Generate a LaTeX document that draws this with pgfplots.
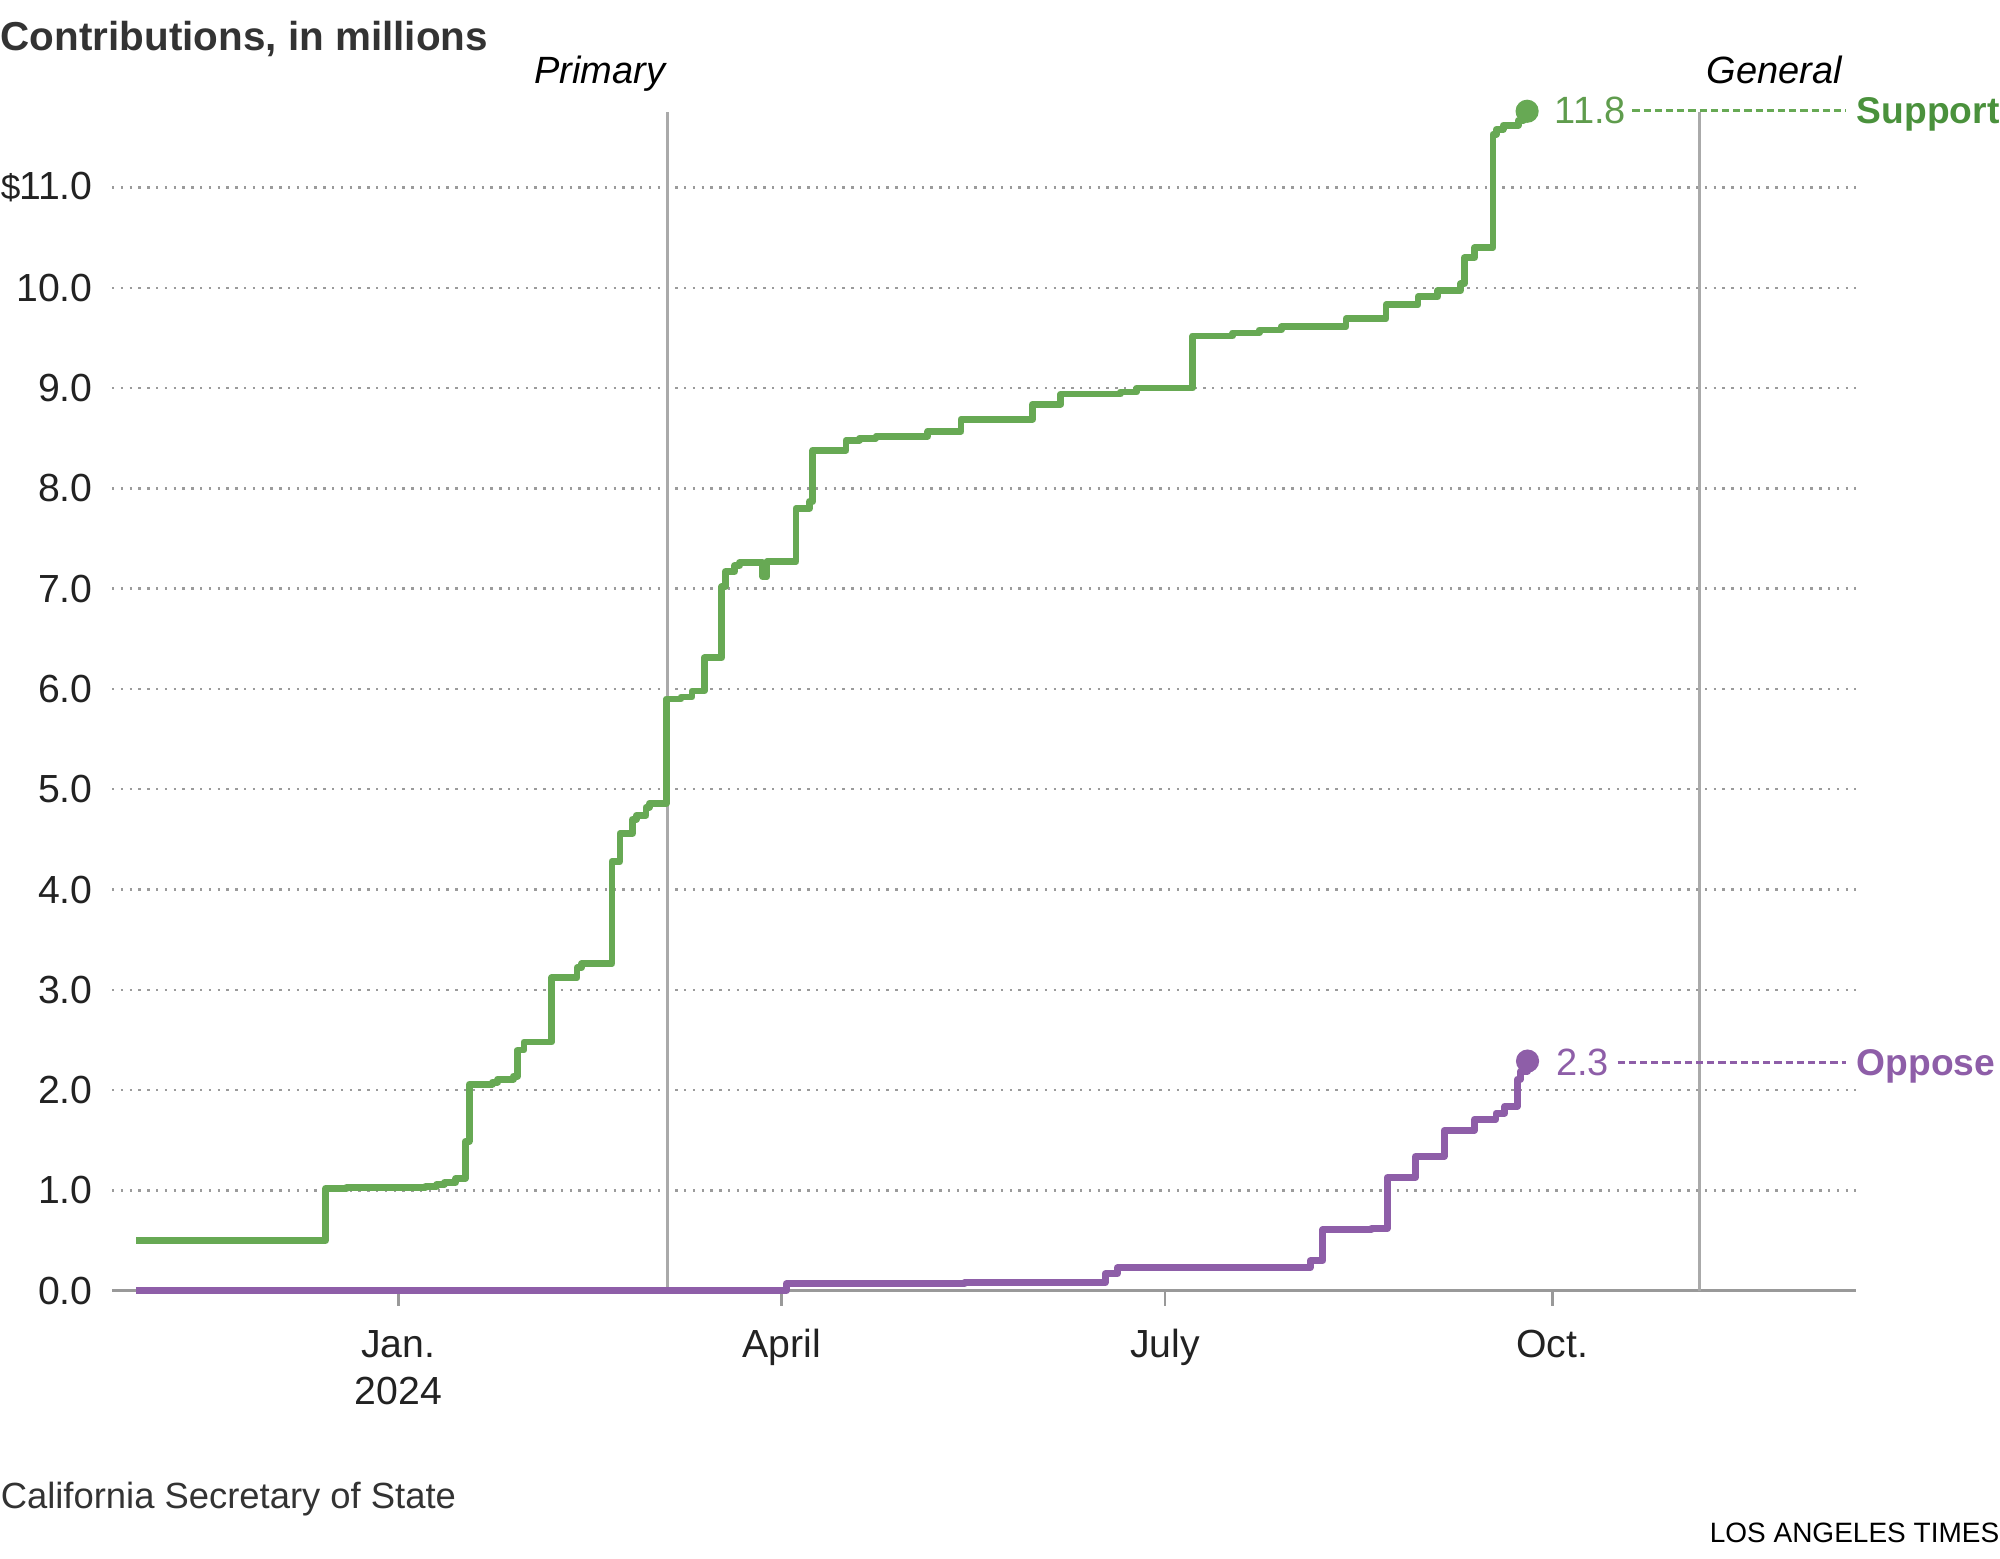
\documentclass[border=0pt]{standalone}
\usepackage{pgfplots}
\pgfplotsset{compat=1.18}
\usepackage{fontspec}
\setmainfont{Liberation Sans}
\newcommand\fs[1]{\fontsize{#1}{#1}\selectfont}
\definecolor{sup}{RGB}{103,169,84}
\definecolor{suptext}{RGB}{74,145,60}
\definecolor{opp}{RGB}{142,94,168}
\definecolor{axgray}{RGB}{153,153,153}
\definecolor{evgray}{RGB}{170,170,170}
\definecolor{griddot}{RGB}{155,155,155}
\definecolor{titlec}{RGB}{51,51,51}
\definecolor{tickc}{RGB}{34,34,34}
\begin{document}
\begin{tikzpicture}
\useasboundingbox (0,0) rectangle (500pt,389.75pt);
\begin{axis}[
  at={(28pt,67.05pt)}, anchor=south west,
  scale only axis, width=435.9pt, height=300.9pt,
  xmin=-68, xmax=346, ymin=0, ymax=12,
  clip=false,
  axis x line*=bottom, axis y line*=left,
  x axis line style={draw=axgray, line width=0.75pt, -},
  y axis line style={draw=none},
  xtick={0,91,182,274}, xticklabels={Jan.,April,July,Oct.},
  ytick={0,1,2,3,4,5,6,7,8,9,10,11},
  yticklabels={0.0,1.0,2.0,3.0,4.0,5.0,6.0,7.0,8.0,9.0,10.0,{{\fs{8.8}\$}\kern-0.3pt11.0}},
  tick align=outside,
  major tick length=3.8pt,
  xtick style={draw=axgray, line width=0.6pt},
  ytick style={draw=none},
  ymajorgrids,
  major grid style={draw=griddot, line width=0.6pt, dash pattern=on 0.6pt off 1.6pt},
  ticklabel style={font=\fs{9.8}, text=tickc},
  xticklabel style={anchor=base, yshift=-13.0pt},
  yticklabel style={anchor=east, xshift=2.5pt},
]
\draw[evgray, line width=0.75pt] (axis cs:64,0) -- (axis cs:64,11.75);
\draw[evgray, line width=0.75pt] (axis cs:309,0) -- (axis cs:309,11.75);

\addplot[const plot, opp, line width=1.7pt, line join=round] coordinates {
(-62.2,0.0) (92.1,0.07) (134.5,0.08) (167.8,0.17) (170.7,0.23) (216.5,0.30)
(219.5,0.61) (231.0,0.62) (234.8,1.13) (241.5,1.34) (248.3,1.60) (255.5,1.71)
(260.6,1.77) (262.7,1.84) (265.7,2.11) (266.4,2.19) (268.1,2.29)
};
\addplot[const plot, sup, line width=1.7pt, line join=round] coordinates {
(-62.2,0.50) (-17.3,1.02) (-12.3,1.03) (6.4,1.04) (9.1,1.06) (10.9,1.08)
(13.6,1.12) (15.9,1.49) (16.8,2.06) (22.3,2.08) (23.6,2.11) (27.3,2.14)
(28.3,2.40) (29.8,2.48) (36.4,3.12) (42.4,3.22) (43.5,3.26) (50.7,4.28)
(52.6,4.56) (55.6,4.70) (56.5,4.74) (58.8,4.82) (59.6,4.86) (63.6,5.90)
(67.1,5.92) (69.7,5.98) (72.6,6.31) (76.8,7.02) (77.6,7.17) (79.8,7.23)
(81.0,7.26) (86.5,7.12) (87.5,7.27) (94.4,7.80) (97.6,7.87) (98.4,8.38)
(106.3,8.48) (109.5,8.50) (113.4,8.52) (125.7,8.57) (133.6,8.69) (150.6,8.84)
(157.3,8.94) (171.4,8.96) (175.3,9.00) (188.6,9.52) (198.1,9.55) (204.4,9.58)
(209.6,9.61) (225.0,9.69) (234.5,9.83) (242.1,9.91) (246.8,9.97) (252.2,10.04)
(253.1,10.30) (255.5,10.40) (259.9,11.53) (260.7,11.58) (262.3,11.62)
(265.9,11.67) (267.1,11.73) (268.0,11.76)
};
\addplot[only marks, mark=*, mark size=2.7pt, sup] coordinates {(268.0,11.76)};
\addplot[only marks, mark=*, mark size=2.7pt, opp] coordinates {(268.1,2.29)};

\node[anchor=base west, inner sep=0, font=\fs{9.5}, text=sup!92!black, yshift=-3.4pt] at (axis cs:274.4,11.77) {11.8};
\draw[sup, line width=0.7pt, dash pattern=on 1.8pt off 1pt] (axis cs:293,11.77) -- (axis cs:343.7,11.77);
\node[anchor=base west, inner sep=0, font=\bfseries\fs{9.3}, text=suptext, yshift=-3.35pt] at (axis cs:346.1,11.77) {Support};

\node[anchor=base west, inner sep=0, font=\fs{9.5}, text=opp, yshift=-3.4pt] at (axis cs:274.7,2.28) {2.3};
\draw[opp, line width=0.7pt, dash pattern=on 1.8pt off 1pt] (axis cs:289.5,2.28) -- (axis cs:343.7,2.28);
\node[anchor=base west, inner sep=0, font=\bfseries\fs{9.3}, text=opp, yshift=-3.35pt] at (axis cs:346.1,2.28) {Oppose};

\node[anchor=base east, inner sep=0, font=\itshape\fs{9.5}, text=black, xshift=-0.5pt] at (axis cs:64,12.04) {Primary};
\node[anchor=base west, inner sep=0, font=\itshape\fs{9.5}, text=black, xshift=1.5pt] at (axis cs:309,12.04) {General};

\node[anchor=base, font=\fs{9.8}, text=tickc, yshift=-28.4pt] at (axis cs:0,0) {2024};
\end{axis}
\node[anchor=base west, inner sep=0, font=\bfseries\fs{10.1}, text=titlec] at (0pt,377pt) {Contributions, in millions};
\node[anchor=base west, inner sep=0, font=\fs{9.1}, text=titlec] at (0pt,12.5pt) {California Secretary of State};
\node[anchor=base east, inner sep=0, font=\fs{7}, text=black] at (500pt,4pt) {LOS ANGELES TIMES};
\end{tikzpicture}
\end{document}
